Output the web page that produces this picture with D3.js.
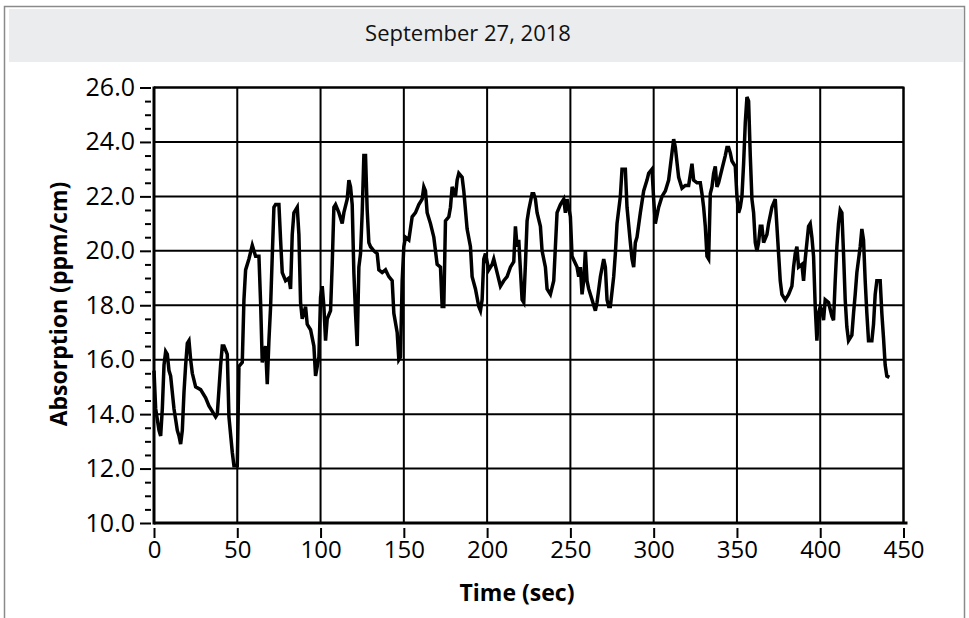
<!DOCTYPE html>
<html>
<head>
<meta charset="utf-8">
<script src="https://cdn.jsdelivr.net/npm/d3@7"></script>
<style>
  body { margin: 0; background: #fff; }
  svg { display: block; font-family: "Open Sans", "Noto Sans", sans-serif; }
</style>
</head>
<body>
<svg id="chart" width="969" height="618"></svg>
<script>
// time (sec) and absorption readings
var times = [0,1,2,3,4,5,6,7,8,9,10,11,12,13,14,15,16,17,18,19,20,21,22,23,25,28,31,33,35,37,38,39,40,41,42,44,45,47,48,50,
  51,53,54,55,57,59,61,63,64,65,67,68,69,70,71,72,73,75,76,77,79,81,82,83,84,86,87,88,89,91,92,94,96,97,99,
  100,101,102,103,104,106,107,108,109,111,113,114,116,117,118,119,120,121,122,123,124,125,126,127,128,129,130,132,134,135,137,139,141,143,144,146,147,148,149,
  150,151,153,155,157,159,161,162,163,164,166,168,170,172,173,174,175,177,178,179,181,182,183,185,186,188,190,191,193,195,196,197,198,199,
  201,203,204,206,208,210,212,214,216,217,218,219,220,221,222,223,224,225,227,228,229,230,232,233,235,236,238,240,241,242,244,246,247,248,
  250,251,254,255,256,257,258,259,260,261,263,265,266,268,270,271,272,273,274,276,277,278,280,281,283,284,286,287,288,289,290,292,294,296,297,299,
  300,301,303,305,307,309,311,312,313,315,317,319,321,323,324,326,328,329,330,331,332,333,334,335,336,337,338,339,341,343,344,345,346,347,349,
  350,351,352,353,354,355,356,357,358,359,360,361,362,363,364,365,366,368,369,371,373,375,376,377,379,381,383,384,385,386,387,389,390,391,392,393,394,395,396,397,398,399,
  400,401,402,403,405,407,408,409,410,411,412,413,414,415,416,417,419,420,421,422,424,425,426,427,428,429,431,432,433,434,436,437,438,439,440,441.5]
var absorption = [15.6,14.2,13.8,13.4,13.2,14.2,15.8,16.3,16.2,15.6,15.4,14.8,14.2,13.8,13.4,13.2,12.9,13.4,14.8,15.8,16.6,16.7,16.0,15.5,15.0,14.9,14.6,14.3,14.1,13.9,14.0,14.9,15.8,16.5,16.5,16.2,13.9,12.6,12.1,12.1,
  15.75,15.9,18.2,19.3,19.7,20.2,19.8,19.8,18.1,15.9,16.5,15.1,16.7,17.95,19.8,21.6,21.7,21.7,20.4,19.2,18.9,19.0,18.6,20.6,21.4,21.6,20.6,18.1,17.5,17.95,17.3,17.1,16.5,15.4,16.1,
  18.3,18.7,17.95,16.7,17.5,17.8,19.5,21.6,21.7,21.4,21.0,21.4,21.9,22.6,22.35,21.7,19.2,17.7,16.5,19.4,19.9,21.4,23.5,23.5,21.5,20.3,20.15,20.0,19.9,19.3,19.2,19.3,19.05,18.9,17.7,17.0,16.0,16.1,18.9,
  20.15,20.5,20.4,21.25,21.4,21.7,21.9,22.35,22.2,21.4,21.0,20.5,19.5,19.4,17.95,17.95,21.1,21.25,21.6,22.35,22.0,22.6,22.85,22.7,22.2,20.8,20.15,19.05,18.6,17.95,17.8,18.2,19.7,19.9,
  19.3,19.5,19.7,19.2,18.7,18.9,19.05,19.4,19.6,20.9,20.15,20.4,19.3,18.2,18.1,19.5,21.1,21.5,22.1,22.1,21.9,21.4,20.9,20.0,19.4,18.6,18.4,18.9,20.15,21.4,21.7,21.9,21.4,21.9,
  21.25,19.8,19.4,19.05,19.4,18.4,18.9,20.0,18.9,18.6,18.2,17.8,18.1,19.05,19.7,19.4,18.2,17.95,17.95,19.05,19.9,21.0,22.0,23.0,23.0,21.6,20.3,19.7,19.4,20.3,20.5,21.4,22.2,22.6,22.85,23.0,
  21.9,21.0,21.6,22.0,22.2,22.6,23.6,24.1,23.8,22.7,22.3,22.4,22.4,23.2,22.6,22.5,22.5,22.1,21.6,20.9,19.8,19.7,22.1,22.35,22.85,23.1,22.35,22.5,23.0,23.5,23.8,23.8,23.6,23.3,23.1,
  22.0,21.4,21.6,22.0,23.2,24.7,25.65,25.5,23.5,21.9,21.4,20.3,20.0,20.3,20.9,20.9,20.3,20.6,21.0,21.6,21.9,19.9,18.9,18.4,18.2,18.4,18.7,19.4,19.9,20.15,19.4,19.5,18.9,19.7,20.3,20.9,21.0,20.5,19.8,17.95,16.7,17.7,
  17.95,17.8,17.45,18.2,18.1,17.6,17.45,18.9,20.15,21.0,21.5,21.4,19.9,18.2,17.2,16.7,16.9,17.7,18.4,19.2,20.15,20.8,20.4,18.9,17.7,16.7,16.7,17.3,18.4,18.9,18.9,17.7,16.8,15.8,15.4,15.35]

var xTicks = [0, 50, 100, 150, 200, 250, 300, 350, 400, 450]
var yTicks = [10, 12, 14, 16, 18, 20, 22, 24, 26]
var title = "September 27, 2018"

var svg = d3.select("#chart")

// outer frame + grey header band
svg.append("rect")
    .attr("x", 4.5).attr("y", 6.5)
    .attr("width", 960).attr("height", 700)
    .attr("fill", "none").attr("stroke", "#8a8a8a").attr("stroke-width", 1.5)
svg.append("rect")
    .attr("x", 9).attr("y", 9)
    .attr("width", 954).attr("height", 53)
    .attr("fill", "#ebecee")
svg.append("text")
    .attr("x", 468).attr("y", 41)
    .attr("text-anchor", "middle")
    .attr("font-size", 22)
    .attr("fill", "#111")
    .text(title)

// plot box (pixels)
var pLeft = 154, pRight = 903.5, pTop = 87.5, pBottom = 523

var x = d3.scaleLinear().domain([0, 450]).range([pLeft, pRight])
var y = d3.scaleLinear().domain([10, 26]).range([pBottom, pTop])

// grid
var grid = svg.append("g").attr("stroke", "#000").attr("stroke-width", 2)
grid.selectAll(".gx").data(xTicks.slice(1))
  .enter().append("line")
    .attr("x1", d => x(d)).attr("x2", d => x(d))
    .attr("y1", pTop).attr("y2", pBottom)
grid.selectAll(".gy").data(yTicks.slice(1))
  .enter().append("line")
    .attr("x1", pLeft).attr("x2", pRight)
    .attr("y1", d => y(d)).attr("y2", d => y(d))

// y axis: major + minor ticks (minor every 0.5)
var minorTicks = d3.range(0, 33).map(i => 10 + i * 0.5)
var yAxis = svg.append("g")
    .attr("transform", "translate(" + (pLeft - 3) + ",0)")
    .call(d3.axisLeft(y).tickValues(minorTicks).tickSize(0).tickFormat(""))
yAxis.select(".domain").remove()
yAxis.selectAll(".tick line")
    .attr("x1", 0)
    .attr("x2", (d, i) => i % 4 === 0 ? -11 : -6)
    .attr("stroke", "#000").attr("stroke-width", 2)

svg.append("g")
    .attr("transform", "translate(" + (pLeft - 16) + ",0)")
    .call(d3.axisLeft(y).tickValues(yTicks).tickSize(0).tickFormat(d3.format(".1f")))
    .call(g => g.select(".domain").remove())
    .selectAll("text")
    .attr("font-size", 25).attr("fill", "#000")
    .attr("font-family", "Open Sans, sans-serif")

// x axis
var xAxis = svg.append("g")
    .attr("transform", "translate(0," + (pBottom + 5) + ")")
    .call(d3.axisBottom(x).tickValues(xTicks).tickSize(10).tickPadding(3))
xAxis.select(".domain").remove()
xAxis.selectAll(".tick line").attr("stroke", "#000").attr("stroke-width", 2)
xAxis.selectAll("text")
    .attr("font-size", 24).attr("fill", "#000")
    .attr("font-family", "Open Sans, sans-serif")

// plot frame
svg.append("line").attr("x1", pLeft).attr("x2", pLeft).attr("y1", pTop - 1).attr("y2", pBottom + 1.5)
    .attr("stroke", "#000").attr("stroke-width", 3)
svg.append("line").attr("x1", pLeft).attr("x2", pRight + 4).attr("y1", pBottom).attr("y2", pBottom)
    .attr("stroke", "#000").attr("stroke-width", 3)
svg.append("line").attr("x1", pLeft).attr("x2", pRight + 1).attr("y1", pTop).attr("y2", pTop)
    .attr("stroke", "#000").attr("stroke-width", 2)
svg.append("line").attr("x1", pRight).attr("x2", pRight).attr("y1", pTop).attr("y2", pBottom)
    .attr("stroke", "#000").attr("stroke-width", 2)

// data trace
var line = d3.line()
    .x((d, i) => x(times[i]))
    .y(d => y(d))
svg.append("path")
    .datum(absorption)
    .attr("d", line)
    .attr("fill", "none")
    .attr("stroke", "#000")
    .attr("stroke-width", 3.5)

// axis titles
svg.append("text")
    .attr("x", 517).attr("y", 601)
    .attr("text-anchor", "middle")
    .attr("font-size", 23).attr("font-weight", "bold")
    .text("Time (sec)")
svg.append("text")
    .attr("transform", "translate(67,304) rotate(-90)")
    .attr("text-anchor", "middle")
    .attr("font-size", 23).attr("font-weight", "bold")
    .text("Absorption (ppm/cm)")
</script>
</body>
</html>
